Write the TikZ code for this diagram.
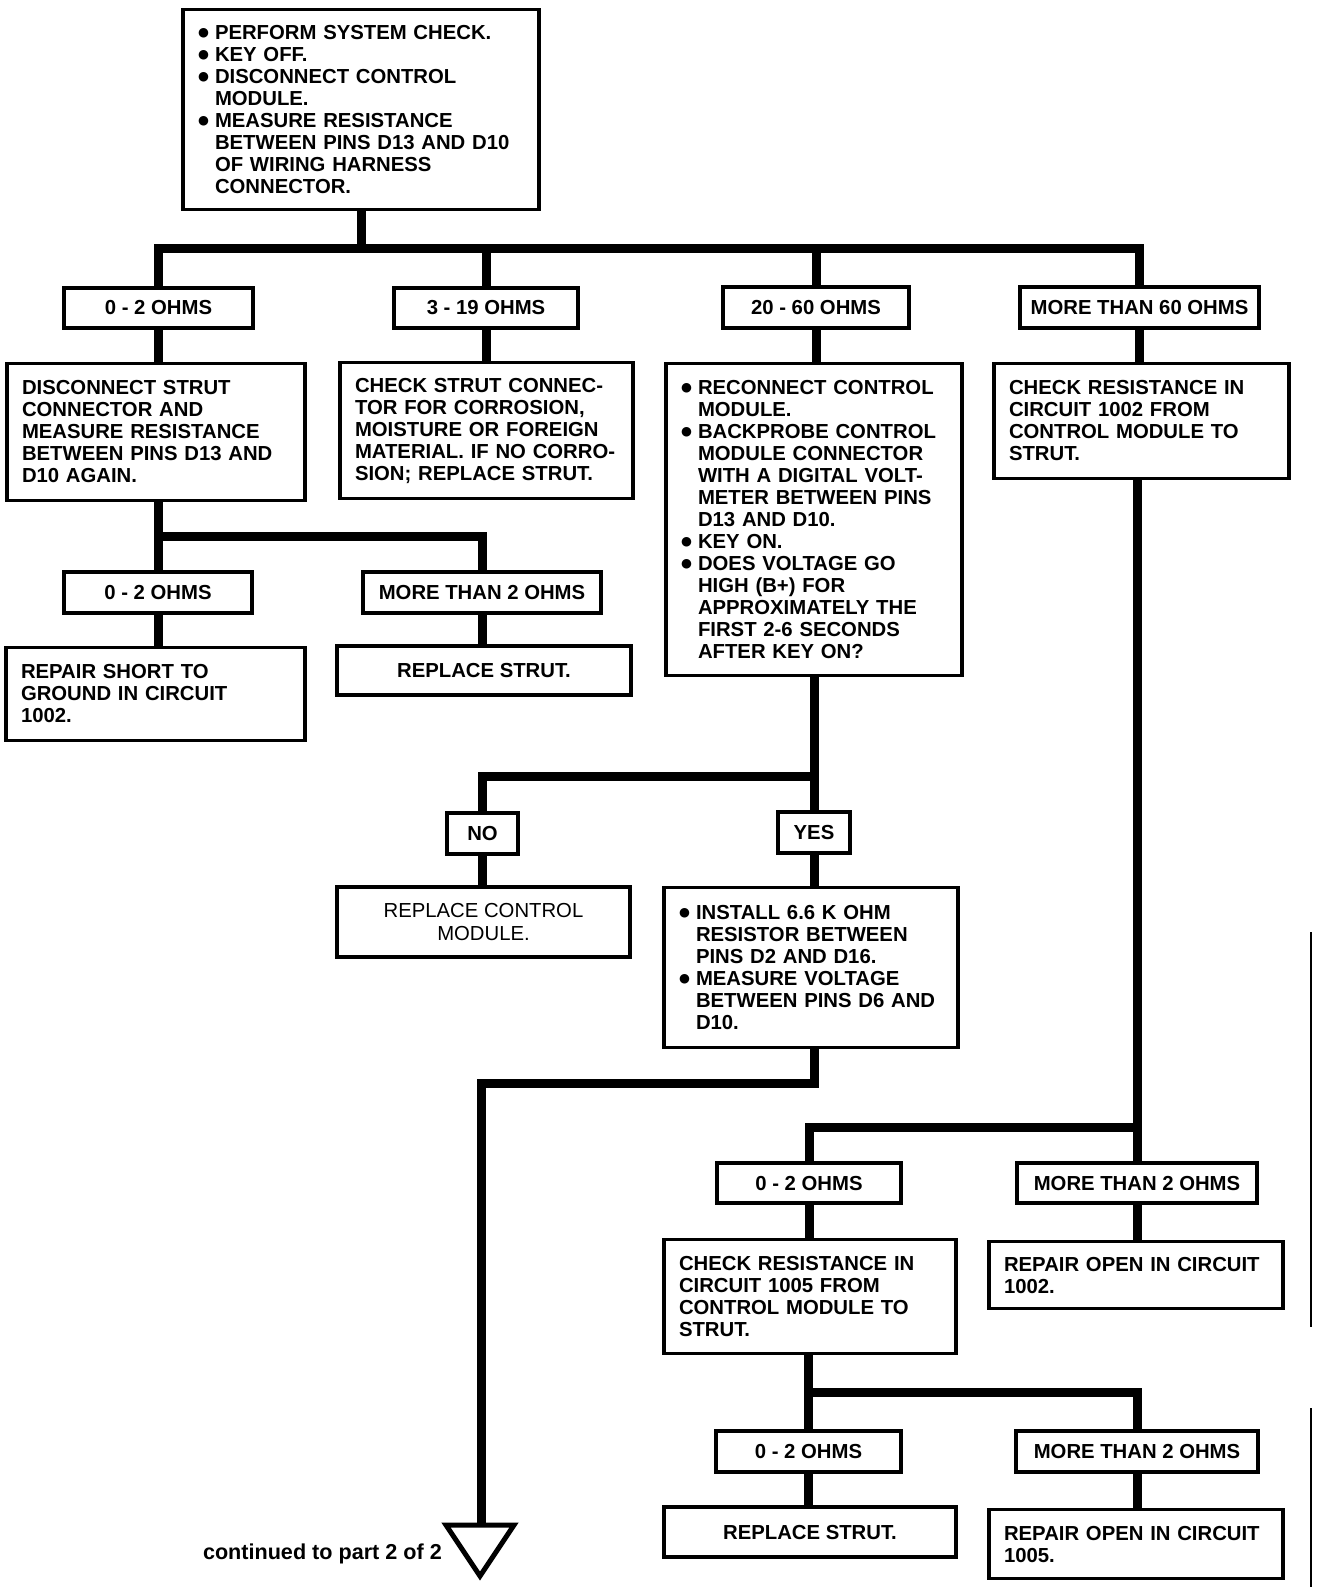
\documentclass[tikz,border=0pt]{standalone}
\usepackage{fontspec}
\setmainfont{Liberation Sans}
\newfontfamily\symfnt{DejaVu Sans}
\newcommand\BUL{\makebox[17pt][l]{\raisebox{2.6pt}{\symfnt\fontsize{12.5}{12.5}\selectfont ●}}}
\newcommand\IND{\hspace*{17pt}}
\newcommand\mainfnt{\fontsize{20.3}{22}\selectfont\bfseries}
\tikzset{
  box/.style={draw, line width=3.2pt, inner xsep=15pt, inner ysep=0pt, font=\mainfnt},
  conn/.style={line width=9pt, line join=miter},
}
% text box: name, x1, y1, x2, y2, text
\newcommand\Tx[6]{%
  \pgfmathsetmacro\Bcx{(#2+#4)/2}%
  \pgfmathsetmacro\Bcy{(#3+#5)/2+1.5}%
  \pgfmathsetmacro\Bw{#4-#2}%
  \pgfmathsetmacro\Bh{#5-#3}%
  \pgfmathsetmacro\Btw{#4-#2-30}%
  \node[box, minimum width=\Bw pt, minimum height=\Bh pt, text width=\Btw pt, align=left] (#1) at (\Bcx,\Bcy) {#6};%
}
% centred box: name, x1, y1, x2, y2, options, text
\newcommand\Cb[7]{%
  \pgfmathsetmacro\Bcx{(#2+#4)/2}%
  \pgfmathsetmacro\Bcy{(#3+#5)/2}%
  \pgfmathsetmacro\Bw{#4-#2}%
  \pgfmathsetmacro\Bh{#5-#3}%
  \node[box, inner xsep=0pt, minimum width=\Bw pt, minimum height=\Bh pt, align=center, #6] (#1) at (\Bcx,\Bcy) {#7};%
}
\begin{document}
\begin{tikzpicture}[x=1pt, y=-1pt]
\fill[white] (0,0) rectangle (1328,1594);
\useasboundingbox (0,0) rectangle (1328,1594);

% ---------- boxes ----------
\Tx{top}{183}{8}{539}{208}{%
\mbox{\BUL PERFORM SYSTEM CHECK.}\\
\mbox{\BUL KEY OFF.}\\
\mbox{\BUL DISCONNECT CONTROL}\\
\mbox{\IND MODULE.}\\
\mbox{\BUL MEASURE RESISTANCE}\\
\mbox{\IND BETWEEN PINS D13 AND D10}\\
\mbox{\IND OF WIRING HARNESS}\\
\mbox{\IND CONNECTOR.}}

\Cb{L1a}{64}{288}{253}{328}{}{0 - 2 OHMS}
\Cb{L1b}{394}{288}{578}{328}{}{3 - 19 OHMS}
\Cb{L1c}{723}{287}{909}{328}{}{20 - 60 OHMS}
\Cb{L1d}{1020}{287}{1259}{328}{}{MORE THAN 60 OHMS}

\Tx{B2a}{7}{362}{305}{499}{%
\mbox{DISCONNECT STRUT}\\
\mbox{CONNECTOR AND}\\
\mbox{MEASURE RESISTANCE}\\
\mbox{BETWEEN PINS D13 AND}\\
\mbox{D10 AGAIN.}}

\Tx{B2b}{340}{361}{633}{497}{%
\mbox{CHECK STRUT CONNEC-}\\
\mbox{TOR FOR CORROSION,}\\
\mbox{MOISTURE OR FOREIGN}\\
\mbox{MATERIAL. IF NO CORRO-}\\
\mbox{SION; REPLACE STRUT.}}

\Tx{B2c}{666}{362}{962}{674}{%
\mbox{\BUL RECONNECT CONTROL}\\
\mbox{\IND MODULE.}\\
\mbox{\BUL BACKPROBE CONTROL}\\
\mbox{\IND MODULE CONNECTOR}\\
\mbox{\IND WITH A DIGITAL VOLT-}\\
\mbox{\IND METER BETWEEN PINS}\\
\mbox{\IND D13 AND D10.}\\
\mbox{\BUL KEY ON.}\\
\mbox{\BUL DOES VOLTAGE GO}\\
\mbox{\IND HIGH (B+) FOR}\\
\mbox{\IND APPROXIMATELY THE}\\
\mbox{\IND FIRST 2-6 SECONDS}\\
\mbox{\IND AFTER KEY ON?}}

\Tx{B2d}{994}{362}{1289}{477}{%
\mbox{CHECK RESISTANCE IN}\\
\mbox{CIRCUIT 1002 FROM}\\
\mbox{CONTROL MODULE TO}\\
\mbox{STRUT.}}

\Cb{L3a}{64}{572}{252}{613}{}{0 - 2 OHMS}
\Cb{L3b}{363}{572}{601}{613}{}{MORE THAN 2 OHMS}

\Tx{B3a}{6}{646}{305}{739}{%
\mbox{REPAIR SHORT TO}\\
\mbox{GROUND IN CIRCUIT}\\
\mbox{1002.}}

\Cb{B3b}{337}{646}{631}{695}{}{REPLACE STRUT.}

\Cb{NO}{447}{813}{518}{854}{}{NO}
\Cb{YES}{778}{812}{850}{853}{}{YES}

\Cb{RCM}{337}{887}{630}{957}{font=\fontsize{20.3}{23}\selectfont\mdseries}{REPLACE CONTROL\\MODULE.}

\Tx{INST}{664}{886}{958}{1046}{%
\mbox{\BUL INSTALL 6.6 K OHM}\\
\mbox{\IND RESISTOR BETWEEN}\\
\mbox{\IND PINS D2 AND D16.}\\
\mbox{\BUL MEASURE VOLTAGE}\\
\mbox{\IND BETWEEN PINS D6 AND}\\
\mbox{\IND D10.}}

\Cb{L5a}{717}{1163}{901}{1203}{}{0 - 2 OHMS}
\Cb{L5b}{1017}{1163}{1257}{1203}{}{MORE THAN 2 OHMS}

\Tx{B5a}{664}{1238}{956}{1352}{%
\mbox{CHECK RESISTANCE IN}\\
\mbox{CIRCUIT 1005 FROM}\\
\mbox{CONTROL MODULE TO}\\
\mbox{STRUT.}}

\Tx{B5b}{989}{1240}{1283}{1307}{%
\mbox{REPAIR OPEN IN CIRCUIT}\\
\mbox{1002.}}

\Cb{L6a}{716}{1431}{901}{1472}{}{0 - 2 OHMS}
\Cb{L6b}{1016}{1431}{1258}{1472}{}{MORE THAN 2 OHMS}

\Cb{B6a}{664}{1507}{956}{1557}{}{REPLACE STRUT.}

\Tx{B6b}{989}{1508}{1283}{1577}{%
\mbox{REPAIR OPEN IN CIRCUIT}\\
\mbox{1005.}}

% ---------- junction coordinates ----------
\coordinate (bar1) at (0,249);
\coordinate (j2) at (0,536);
\coordinate (j3) at (0,776);
\coordinate (j4) at (0,1083);
\coordinate (j5) at (0,1127);
\coordinate (j6) at (0,1392);
\coordinate (tritop) at (481,1525);

% ---------- connectors ----------
\draw[conn] (top.south) -- (top.south |- bar1);
\draw[conn] (L1a.north) -- (L1a.north |- bar1) -- (L1d.north |- bar1) -- (L1d.north);
\draw[conn] (L1b.north) -- (L1b.north |- bar1);
\draw[conn] (L1c.north) -- (L1c.north |- bar1);

\draw[conn] (L1a.south) -- (L1a.south |- B2a.north);
\draw[conn] (L1b.south) -- (L1b.south |- B2b.north);
\draw[conn] (L1c.south) -- (L1c.south |- B2c.north);
\draw[conn] (L1d.south) -- (L1d.south |- B2d.north);

\draw[conn] (L3a.north |- B2a.south) -- (L3a.north);
\draw[conn] (L3a.north |- j2) -| (L3b.north);
\draw[conn] (L3a.south) -- (L3a.south |- B3a.north);
\draw[conn] (L3b.south) -- (L3b.south |- B3b.north);

\draw[conn] (YES.north |- B2c.south) -- (YES.north);
\draw[conn] (YES.north |- j3) -| (NO.north);
\draw[conn] (NO.south) -- (NO.south |- RCM.north);
\draw[conn] (YES.south) -- (YES.south |- INST.north);

\draw[conn] (YES.south |- INST.south) -- (YES.south |- j4) -| (tritop);

\draw[conn] (L5b.north |- B2d.south) -- (L5b.north);
\draw[conn] (L5b.north |- j5) -| (L5a.north);
\draw[conn] (L5a.south) -- (L5a.south |- B5a.north);
\draw[conn] (L5b.south) -- (L5b.south |- B5b.north);

\draw[conn] (L6a.north |- B5a.south) -- (L6a.north);
\draw[conn] (L6a.north |- j6) -| (L6b.north);
\draw[conn] (L6a.south) -- (L6a.south |- B6a.north);
\draw[conn] (L6b.south) -- (L6b.south |- B6b.north);

% ---------- off-page connector ----------
\draw[line width=5pt, line join=miter] (446,1525) -- (514,1525) -- (480,1576) -- cycle;
\node[font=\fontsize{21.6}{22}\selectfont\bfseries, anchor=base east, inner sep=0pt] (cont) at (442,1559) {continued to part 2 of 2};

% ---------- scan border lines ----------
\draw[line width=1.5pt] (1311,932) -- (1311,1327);
\draw[line width=1.5pt] (1311,1408) -- (1311,1587);
\end{tikzpicture}
\end{document}
